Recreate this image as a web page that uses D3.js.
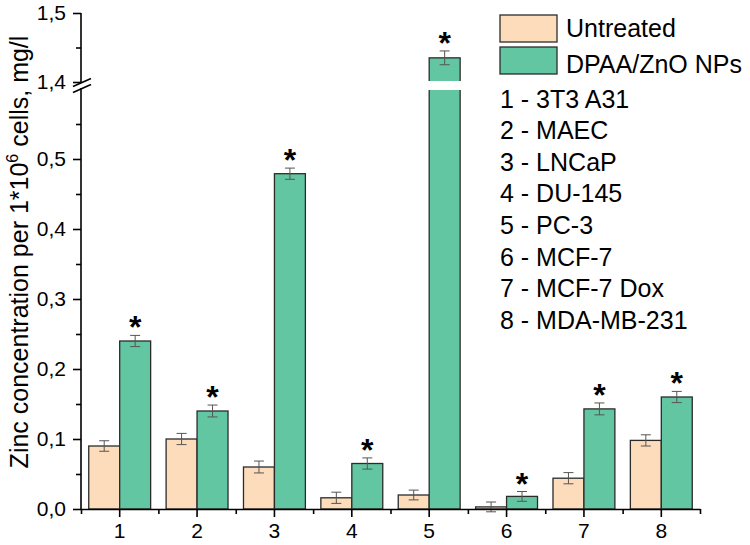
<!DOCTYPE html>
<html lang="en">
<head>
<meta charset="UTF-8">
<title>Zinc concentration</title>
<script src="https://d3js.org/d3.v7.min.js"></script>
<style>
  body { margin: 0; background: #fff; }
  svg { font-family: "Liberation Sans", Arial, sans-serif; }
  .axis path, .axis line { stroke: #000; stroke-width: 1.6; }
  .axis text { fill: #000; font-size: 21px; }
</style>
</head>
<body>
<script>
const categories = ['1', '2', '3', '4', '5', '6', '7', '8'];
const cellLines = ['3T3 A31', 'MAEC', 'LNCaP', 'DU-145', 'PC-3', 'MCF-7', 'MCF-7 Dox', 'MDA-MB-231'];
const untreated = [0.090, 0.100, 0.060, 0.016, 0.020, 0.003, 0.044, 0.098];
const untreatedErr = [0.0075, 0.008, 0.0085, 0.008, 0.007, 0.007, 0.008, 0.008];
const treated = [0.240, 0.140, 0.479, 0.065, 1.435, 0.018, 0.143, 0.160];
const treatedErr = [0.008, 0.0085, 0.008, 0.008, 0.010, 0.007, 0.0085, 0.008];
const seriesNames = ['Untreated', 'DPAA/ZnO NPs'];
const lowerTicks = [0, 0.1, 0.2, 0.3, 0.4, 0.5];
const upperTicks = [1.4, 1.5];

const width = 750, height = 545;
const colors = ['#fddcbb', '#63c6a3'];
const strokeCol = '#2b2b2b';

const svg = d3.select('body').append('svg').attr('width', width).attr('height', height);

const x = d3.scaleBand().domain(categories).range([81, 700]).paddingInner(0.2).paddingOuter(0.1);
const xEdge = d3.scaleLinear().domain([0.5, 8.5]).range([81, 700]);
const xSub = d3.scaleBand().domain([0, 1]).range([0, x.bandwidth()]);

const yLow = d3.scaleLinear().domain([0, 0.6]).range([509, 89]);
const yHigh = d3.scaleLinear().domain([1.4, 1.5]).range([82, 13]);
const yOf = v => v > 0.6 ? yHigh(v) : yLow(v);
const comma = d => d3.format('.1f')(d).replace('.', ',');

// bars
const groups = svg.append('g').selectAll('g').data(categories).join('g')
  .attr('transform', d => `translate(${x(d)},0)`);

[untreated, treated].forEach((vals, s) => {
  groups.append('rect')
    .attr('x', xSub(s))
    .attr('width', xSub.bandwidth())
    .attr('y', (d, i) => yOf(vals[i]))
    .attr('height', (d, i) => yLow(0) - yOf(vals[i]))
    .attr('fill', colors[s])
    .attr('stroke', strokeCol)
    .attr('stroke-width', 1.3);
});

// break gap over tall bars
groups.filter((d, i) => treated[i] > 0.6).append('rect')
  .attr('x', xSub(1) - 2)
  .attr('width', xSub.bandwidth() + 4)
  .attr('y', yHigh(1.4) - 1)
  .attr('height', yLow(0.6) - yHigh(1.4) + 2)
  .attr('fill', '#fff');

// error bars
[[untreated, untreatedErr], [treated, treatedErr]].forEach(([vals, errs], s) => {
  const cx = xSub(s) + xSub.bandwidth() / 2;
  const eb = groups.append('g').attr('stroke', '#555').attr('stroke-width', 1);
  eb.append('line').attr('x1', cx).attr('x2', cx)
    .attr('y1', (d, i) => yOf(vals[i] - errs[i])).attr('y2', (d, i) => yOf(vals[i] + errs[i]));
  eb.append('line').attr('x1', cx - 5).attr('x2', cx + 5)
    .attr('y1', (d, i) => yOf(vals[i] + errs[i])).attr('y2', (d, i) => yOf(vals[i] + errs[i]));
  eb.append('line').attr('x1', cx - 5).attr('x2', cx + 5)
    .attr('y1', (d, i) => yOf(vals[i] - errs[i])).attr('y2', (d, i) => yOf(vals[i] - errs[i]));
});

// significance stars
groups.append('text')
  .attr('x', xSub(1) + xSub.bandwidth() / 2)
  .attr('y', (d, i) => yOf(treated[i] + treatedErr[i]) + 3)
  .attr('text-anchor', 'middle')
  .attr('font-size', 32)
  .attr('font-weight', 'bold')
  .text('*');

// x axis
svg.append('g').attr('class', 'axis').attr('transform', 'translate(0,509)')
  .call(d3.axisBottom(x).tickSize(8).tickSizeOuter(0).tickPadding(6));
svg.append('g').attr('class', 'axis').attr('transform', 'translate(0,509)')
  .call(d3.axisBottom(xEdge).tickValues(d3.range(0.5, 9, 1)).tickSize(5).tickFormat(''))
  .select('.domain').remove();

// y axis lower
const yLowAxis = svg.append('g').attr('class', 'axis').attr('transform', 'translate(81,0)')
  .call(d3.axisLeft(yLow).tickValues(lowerTicks).tickFormat(comma).tickSize(8).tickSizeOuter(0).tickPadding(7));
yLowAxis.select('.domain').attr('d', `M0,${yLow(0)}V${yLow(0.6) - 1}`);
svg.append('g').attr('class', 'axis').attr('transform', 'translate(81,0)')
  .call(d3.axisLeft(yLow).tickValues(d3.range(0.05, 0.6, 0.1)).tickSize(5).tickFormat(''))
  .select('.domain').remove();

// y axis upper
const yHighAxis = svg.append('g').attr('class', 'axis').attr('transform', 'translate(81,0)')
  .call(d3.axisLeft(yHigh).tickValues(upperTicks).tickFormat(comma).tickSize(8).tickSizeOuter(0).tickPadding(7));
yHighAxis.select('.domain').attr('d', `M0,${yHigh(1.5)}V${yHigh(1.4)}`);
svg.append('g').attr('class', 'axis').attr('transform', 'translate(81,0)')
  .call(d3.axisLeft(yHigh).tickValues([1.45]).tickSize(5).tickFormat(''))
  .select('.domain').remove();

// axis break marks
const by = (yHigh(1.4) + yLow(0.6)) / 2;
[-3, 3].forEach(o => {
  svg.append('line')
    .attr('x1', 73).attr('y1', by + o + 4).attr('x2', 91).attr('y2', by + o - 4)
    .attr('stroke', '#000').attr('stroke-width', 1.6);
});

// y title
const title = svg.append('text')
  .attr('transform', `translate(28,${252}) rotate(-90)`)
  .attr('text-anchor', 'middle')
  .attr('font-size', 25);
title.append('tspan').text('Zinc concentration per 1*10');
title.append('tspan').attr('font-size', 16).attr('dy', -10).text('6');
title.append('tspan').attr('dy', 10).text(' cells, mg/l');

// legend
const leg = svg.append('g');
seriesNames.forEach((name, s) => {
  leg.append('rect').attr('x', 500).attr('y', 15 + s * 32).attr('width', 57).attr('height', 27)
    .attr('fill', colors[s]).attr('stroke', strokeCol).attr('stroke-width', 1.3);
  leg.append('text').attr('x', 566).attr('y', 37 + s * 36).attr('font-size', 25).text(name);
});
cellLines.forEach((c, i) => {
  leg.append('text').attr('x', 500).attr('y', 107.5 + i * 31.6).attr('font-size', 25)
    .text(`${categories[i]} - ${c}`);
});
</script>
</body>
</html>
